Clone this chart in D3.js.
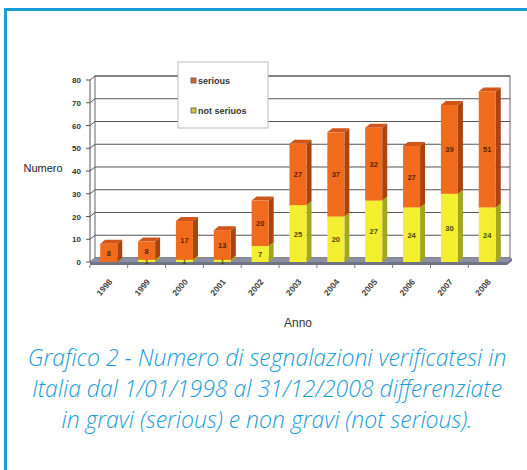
<!DOCTYPE html>
<html>
<head>
<meta charset="utf-8">
<script src="https://cdn.jsdelivr.net/npm/d3@7"></script>
<style>
  html, body { margin: 0; padding: 0; background: #fff; }
  svg { display: block; }
</style>
</head>
<body>
<div id="chart"></div>
<script>
// dati
const years = ["1998", "1999", "2000", "2001", "2002", "2003", "2004", "2005", "2006", "2007", "2008"];
const notSerious = [0, 1, 1, 1, 7, 25, 20, 27, 24, 30, 24];
const serious = [8, 8, 17, 13, 20, 27, 37, 32, 27, 39, 51];
const yTicks = [0, 10, 20, 30, 40, 50, 60, 70, 80];
const seriesNames = ["serious", "not seriuos"];
const captionLines = [
  "Grafico 2 - Numero di segnalazioni verificatesi in",
  "Italia dal 1/01/1998 al 31/12/2008 differenziate",
  "in gravi (serious) e non gravi (not serious)."
];

function drawChart() {
  const width = 527, height = 470;
  const svg = d3.select("#chart").append("svg")
    .attr("width", width)
    .attr("height", height);

  // cornice blu (solo sopra e a sinistra)
  svg.append("line").attr("x1", 4).attr("x2", width).attr("y1", 9.5).attr("y2", 9.5)
    .attr("stroke", "#1b9bd7").attr("stroke-width", 3);
  svg.append("line").attr("x1", 5.5).attr("x2", 5.5).attr("y1", 8).attr("y2", height)
    .attr("stroke", "#1b9bd7").attr("stroke-width", 3);

  const dx = 5, dy = 4; // profondità 3D
  const y = d3.scaleLinear().domain([0, 80]).range([262, 80]);
  const x = d3.scaleBand().domain(years).range([90, 506]).paddingInner(0.55).paddingOuter(0.27);

  const g = svg.append("g");

  // parete di fondo
  const wallL = 95, wallR = 510;
  g.append("rect")
    .attr("x", wallL).attr("y", y(80) - dy)
    .attr("width", wallR - wallL).attr("height", y(0) - y(80))
    .attr("fill", "#fff").attr("stroke", "#666").attr("stroke-width", 1);

  g.append("g").selectAll("line")
    .data(yTicks)
    .join("line")
    .attr("x1", wallL).attr("x2", wallR)
    .attr("y1", d => y(d) - dy).attr("y2", d => y(d) - dy)
    .attr("stroke", "#555").attr("stroke-width", 1.2);

  // parete laterale sinistra
  g.append("line").attr("x1", 90).attr("x2", 90).attr("y1", y(0)).attr("y2", y(80))
    .attr("stroke", "#555");
  g.append("g").selectAll("line")
    .data(yTicks)
    .join("line")
    .attr("x1", 90).attr("x2", wallL)
    .attr("y1", d => y(d)).attr("y2", d => y(d) - dy)
    .attr("stroke", "#555");
  g.append("g").selectAll("line")
    .data(yTicks)
    .join("line")
    .attr("x1", 86).attr("x2", 90)
    .attr("y1", d => y(d)).attr("y2", d => y(d))
    .attr("stroke", "#555");

  g.append("g").selectAll("text")
    .data(yTicks)
    .join("text")
    .attr("x", 81).attr("y", d => y(d) + 3)
    .attr("text-anchor", "end")
    .attr("font-family", "Liberation Sans, Arial, sans-serif")
    .attr("font-size", 8).attr("font-weight", "bold")
    .attr("fill", "#333")
    .text(d => d);

  // pavimento
  g.append("polygon")
    .attr("points", [[90, y(0)], [wallL, y(0) - dy], [wallR + 2, y(0) - dy], [wallR - 3, y(0)]].join(" "))
    .attr("fill", "#8a8fa3");
  g.append("polygon")
    .attr("points", [[wallR - 3, y(0)], [wallR + 2, y(0) - dy], [wallR + 2, y(0) - 1], [wallR - 3, y(0) + 3]].join(" "))
    .attr("fill", "#6e7386");
  g.append("rect").attr("x", 90).attr("y", y(0)).attr("width", wallR - 93).attr("height", 3)
    .attr("fill", "#6e7386");

  // tacche asse x
  g.append("g").selectAll("line")
    .data(years)
    .join("line")
    .attr("x1", d => x(d) - x.step() * x.paddingInner() / 2)
    .attr("x2", d => x(d) - x.step() * x.paddingInner() / 2)
    .attr("y1", y(0) + 3).attr("y2", y(0) + 6)
    .attr("stroke", "#777");

  // barre in pila
  const rows = years.map((yr, i) => ({ year: yr, notSerious: notSerious[i], serious: serious[i] }));
  const stack = d3.stack().keys(["notSerious", "serious"])(rows);
  const colors = {
    notSerious: { front: "#f3ee2e", side: "#a3a622", top: "#dcd63a", text: "#4a4a10" },
    serious: { front: "#f06c1c", side: "#a9430f", top: "#cf5518", text: "#5a2208" }
  };

  stack.forEach(layer => {
    const c = colors[layer.key];
    const bars = g.append("g").selectAll("g")
      .data(layer.filter(d => d[1] > d[0]))
      .join("g");

    bars.append("polygon")
      .attr("points", d => {
        const x1 = x(d.data.year) + x.bandwidth();
        return [[x1, y(d[1])], [x1 + dx, y(d[1]) - dy], [x1 + dx, y(d[0]) - dy], [x1, y(d[0])]].join(" ");
      })
      .attr("fill", c.side);

    bars.append("polygon")
      .attr("points", d => {
        const x0 = x(d.data.year), x1 = x0 + x.bandwidth();
        return [[x0, y(d[1])], [x0 + dx, y(d[1]) - dy], [x1 + dx, y(d[1]) - dy], [x1, y(d[1])]].join(" ");
      })
      .attr("fill", c.top);

    bars.append("rect")
      .attr("x", d => x(d.data.year))
      .attr("y", d => y(d[1]))
      .attr("width", x.bandwidth())
      .attr("height", d => y(d[0]) - y(d[1]))
      .attr("fill", c.front);

    bars.append("text")
      .attr("x", d => x(d.data.year) + x.bandwidth() / 2)
      .attr("y", d => (y(d[0]) + y(d[1])) / 2 + 3)
      .attr("text-anchor", "middle")
      .attr("font-family", "Liberation Sans, Arial, sans-serif")
      .attr("font-size", 7.5).attr("font-weight", "bold")
      .attr("fill", c.text)
      .text(d => d[1] - d[0]);
  });

  // etichette anni ruotate
  g.append("g").selectAll("text")
    .data(years)
    .join("text")
    .attr("transform", d => `translate(${x(d) + x.bandwidth() / 2 + 4},${y(0) + 20}) rotate(-50)`)
    .attr("text-anchor", "end")
    .attr("font-family", "Liberation Sans, Arial, sans-serif")
    .attr("font-size", 8.5).attr("font-weight", "bold")
    .attr("fill", "#444")
    .text(d => d);

  g.append("text")
    .attr("x", 298).attr("y", 327)
    .attr("text-anchor", "middle")
    .attr("font-family", "Liberation Sans, Arial, sans-serif")
    .attr("font-size", 12)
    .attr("fill", "#333")
    .text("Anno");

  g.append("text")
    .attr("x", 43).attr("y", 172)
    .attr("text-anchor", "middle")
    .attr("font-family", "Liberation Sans, Arial, sans-serif")
    .attr("font-size", 11)
    .attr("fill", "#222")
    .text("Numero");

  // legenda
  const legend = g.append("g");
  legend.append("rect")
    .attr("x", 178).attr("y", 62).attr("width", 90).attr("height", 66)
    .attr("fill", "#fff").attr("stroke", "#bbb");
  const legendColors = ["#d0693a", "#c9cc3c"];
  const li = legend.selectAll("g")
    .data(seriesNames)
    .join("g")
    .attr("transform", (d, i) => `translate(191,${79 + i * 30})`);
  li.append("rect")
    .attr("x", 0).attr("y", -1).attr("width", 5).attr("height", 5)
    .attr("fill", (d, i) => legendColors[i]).attr("stroke", "#555").attr("stroke-width", 0.8);
  li.append("text")
    .attr("x", 7).attr("y", 5)
    .attr("font-family", "Liberation Sans, Arial, sans-serif")
    .attr("font-size", 9).attr("font-weight", "bold")
    .attr("fill", "#333")
    .text(d => d);

  // didascalia
  svg.append("g").selectAll("text")
    .data(captionLines)
    .join("text")
    .attr("x", 267)
    .attr("y", (d, i) => 366 + i * 31)
    .attr("text-anchor", "middle")
    .attr("font-family", "Open Sans, sans-serif")
    .attr("font-style", "italic")
    .attr("font-weight", 300)
    .attr("font-size", 23)
    .attr("fill", "#1b9bd7")
    .text(d => d);
}

document.addEventListener("DOMContentLoaded", drawChart);
</script>
</body>
</html>
